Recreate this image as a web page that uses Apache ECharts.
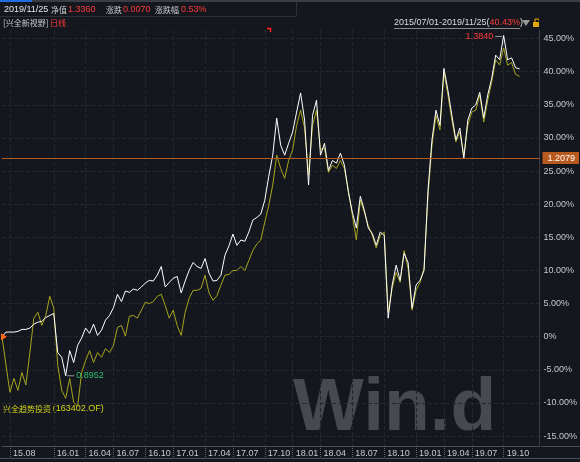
<!DOCTYPE html>
<html><head><meta charset="utf-8">
<script src="https://cdn.jsdelivr.net/npm/echarts@6/dist/echarts.min.js"></script>
<style>html,body{margin:0;padding:0;background:#14171e}#c{width:580px;height:462px}</style>
</head><body><div id="c"></div>
<script>
// ---- data ----
const dates = [
'2015-07-01','2015-07-17','2015-08-03','2015-08-14','2015-08-28','2015-09-11','2015-09-25','2015-10-09','2015-10-23','2015-11-06',
'2015-11-20','2015-12-04','2015-12-18','2016-01-04','2016-01-13','2016-01-25','2016-02-05','2016-02-19','2016-03-02','2016-03-14',
'2016-03-24','2016-04-01','2016-04-14','2016-04-27','2016-05-10','2016-05-23','2016-06-03','2016-06-17','2016-07-01','2016-07-12',
'2016-07-22','2016-08-03','2016-08-15','2016-08-26','2016-09-07','2016-09-20','2016-10-10','2016-10-21','2016-11-02','2016-11-14',
'2016-11-25','2016-12-07','2016-12-19','2017-01-03','2017-01-13','2017-01-25','2017-02-07','2017-02-17','2017-03-01','2017-03-13',
'2017-03-24','2017-04-05','2017-04-18','2017-05-02','2017-05-12','2017-05-25','2017-06-07','2017-06-20','2017-07-03','2017-07-14',
'2017-07-27','2017-08-08','2017-08-21','2017-09-01','2017-09-13','2017-09-26','2017-10-09','2017-10-20','2017-11-01','2017-11-13',
'2017-11-24','2017-12-06','2017-12-19','2018-01-02','2018-01-15','2018-01-26','2018-02-08','2018-02-26','2018-03-09','2018-03-21',
'2018-04-02','2018-04-13','2018-04-25','2018-05-08','2018-05-18','2018-05-30','2018-06-11','2018-06-21','2018-07-02','2018-07-13',
'2018-07-26','2018-08-07','2018-08-20','2018-08-31','2018-09-12','2018-09-25','2018-10-08','2018-10-18','2018-10-30','2018-11-09',
'2018-11-21','2018-12-03','2018-12-13','2018-12-24','2019-01-02','2019-01-15','2019-01-28','2019-02-12','2019-02-25','2019-03-08',
'2019-03-20','2019-04-01','2019-04-12','2019-04-25','2019-05-09','2019-05-22','2019-06-04','2019-06-18','2019-07-01','2019-07-12',
'2019-07-24','2019-08-06','2019-08-19','2019-08-30','2019-09-11','2019-09-24','2019-10-08','2019-10-18','2019-10-30','2019-11-12',
'2019-11-25','2019-12-05','2019-12-17','2019-12-27','2020-01-08','2020-01-20'];

// 兴全新视野 cumulative return (%)
const fundReturn = [
0.0,0.7,0.7,0.7,0.8,1.1,1.1,1.3,1.9,2.2,
2.3,2.9,3.2,3.5,-2.4,-3.1,-5.9,-2.1,-3.9,-1.3,
-0.2,1.3,0.5,1.9,0.2,1.0,2.5,3.2,4.4,6.4,
5.3,6.9,6.7,7.2,7.0,7.5,8.1,8.5,8.4,9.3,
10.6,7.5,8.2,8.8,9.1,6.6,8.4,10.0,11.2,10.6,
10.3,11.8,9.6,8.4,8.5,9.3,12.3,13.7,15.5,13.8,
14.6,14.4,15.8,17.6,18.0,18.5,20.6,24.2,27.4,33.0,
28.9,27.4,29.2,30.9,33.9,36.8,32.7,22.9,33.4,35.7,
27.4,29.2,25.1,26.6,26.2,27.7,25.9,21.8,18.8,16.4,
21.2,19.1,16.4,15.6,13.8,15.8,15.3,2.8,7.8,10.8,
8.5,12.6,11.2,4.3,7.8,8.5,10.0,22.1,29.7,34.2,
31.9,40.5,37.2,33.4,29.7,31.5,26.9,32.7,34.5,35.0,
36.9,33.0,36.5,39.0,42.5,41.8,45.48,41.8,42.1,40.6,
40.43];

// 兴全趋势投资 (163402.OF) cumulative return (%)
const compReturn = [
0.0,-4.3,-8.4,-6.3,-8.1,-5.4,-7.3,-2.4,2.8,3.7,
1.7,3.2,6.1,4.3,-4.3,-8.1,-9.3,-6.3,-9.9,-10.5,
-5.4,-3.6,-2.1,-3.9,-2.4,-3.1,-1.8,-2.4,-1.3,1.4,
1.7,0.1,3.1,3.2,2.8,4.0,5.2,5.0,5.3,6.1,
6.4,4.7,2.8,4.0,1.7,0.2,3.7,5.8,7.0,7.0,
7.3,9.3,6.6,5.5,6.2,7.8,9.3,9.4,10.0,10.0,
10.6,10.0,11.5,13.0,14.0,14.6,17.3,19.8,22.9,27.4,
25.4,23.9,26.6,28.2,31.9,34.2,31.5,24.4,31.9,34.2,
28.2,28.5,24.8,25.9,25.4,26.6,25.4,22.1,18.3,14.6,
20.6,18.8,16.8,15.3,13.4,15.3,15.8,3.7,7.3,9.7,
8.2,13.0,10.3,4.0,7.0,8.2,10.3,21.3,28.9,33.4,
31.2,39.9,36.5,32.7,29.4,30.9,27.4,31.9,33.9,34.2,
36.5,32.4,35.7,38.4,41.8,41.0,43.6,41.0,41.4,39.6,
39.3];

const xTickLabels = ['15.08','16.01','16.04','16.07','16.10','17.01','17.04','17.07','17.10',
                     '18.01','18.04','18.07','18.10','19.01','19.04','19.07','19.10'];
const yTickValues = [-15,-10,-5,0,5,10,15,20,25,30,35,40,45];

const navEnd = 1.3360, navChg = 0.0070, pctChg = 0.53, rangeReturn = 40.43;
const navLine = 1.2079, navMax = 1.3840, navMin = 0.8952;
const maxIdx = 126, minIdx = 16;

// ---- helpers ----
const toLbl = d => d.slice(2,4) + '.' + d.slice(5,7);
const tickIdx = new Set();
xTickLabels.forEach(l => { const i = dates.findIndex(d => toLbl(d) === l); if (i >= 0) tickIdx.add(i); });
const isTick = (i) => tickIdx.has(i);
const linePct = (navLine * (1 + rangeReturn/100) / navEnd - 1) * 100;

const LAT = '"Liberation Sans",sans-serif';
const CJK = '"Noto Sans CJK SC",sans-serif';
const RED = '#ff3b3b', GRAY = '#c8c8c8';

const chart = echarts.init(document.getElementById('c'), null, {renderer:'canvas'});
const txt = (x, y, text, fill, font) => ({type:'text', x, y, silent:true,
  style:{text, fill, font: font || ('9px ' + LAT), verticalAlign:'middle'}});

chart.setOption({
  backgroundColor:'#14171e',
  animation:false,
  grid:{left:2, right:39, top:30, bottom:16},
  xAxis:{
    type:'category', data:dates, boundaryGap:false,
    axisLine:{show:true, onZero:false, lineStyle:{color:'#4a4e57'}},
    axisTick:{show:true, interval:isTick, length:12, lineStyle:{color:'#5d616a', type:'dotted'}},
    axisLabel:{interval:isTick, formatter:toLbl, color:GRAY, fontSize:9, fontFamily:'Liberation Sans',
               align:'left', padding:[0,0,0,3], margin:3},
    splitLine:{show:true, interval:isTick, lineStyle:{color:'#23272f', type:'dashed'}}
  },
  yAxis:{
    type:'value', position:'right', min:-16.5, max:46.3,
    axisLine:{show:true, lineStyle:{color:'#3a3e47'}},
    axisTick:{show:false, customValues:yTickValues},
    axisLabel:{customValues:yTickValues, color:GRAY, fontSize:9, fontFamily:'Liberation Sans', margin:4,
               formatter:v => v === 0 ? '0%' : v.toFixed(2) + '%'},
    splitLine:{show:true, lineStyle:{color:'#23272f', type:'dashed'}}
  },
  series:[
    {type:'line', name:'兴全趋势投资', data:compReturn, symbol:'none', z:2,
     lineStyle:{color:'#a8a51c', width:1}},
    {type:'line', name:'兴全新视野', data:fundReturn, symbol:'none', z:3,
     lineStyle:{color:'#ffffff', width:1},
     markLine:{silent:true, symbol:'none', animation:false,
       lineStyle:{color:'#b8591e', width:1, type:'solid'},
       label:{position:'end', formatter:navLine.toFixed(4), color:'#fff', backgroundColor:'#b8591e',
              padding:[2,4,1,5], fontSize:9, fontFamily:'Liberation Sans', distance:3},
       data:[{yAxis:linePct}]},
     markPoint:{silent:true, animation:false, data:[
       {coord:[dates[maxIdx], fundReturn[maxIdx]], symbol:'rect', symbolSize:[7,1], symbolOffset:[-5,1],
        itemStyle:{color:'#9a9a9a'},
        label:{show:true, position:'left', distance:2, formatter:navMax.toFixed(4), color:RED, fontSize:9, fontFamily:'Liberation Sans'}},
       {coord:[dates[minIdx], fundReturn[minIdx]], symbol:'rect', symbolSize:[7,1], symbolOffset:[5,0],
        itemStyle:{color:'#9a9a9a'},
        label:{show:true, position:'right', distance:2, formatter:navMin.toFixed(4), color:'#2fbf6e', fontSize:9, fontFamily:'Liberation Sans'}},
       {coord:[dates[0], fundReturn[0]], symbol:'triangle', symbolRotate:-90, symbolSize:[7,6], symbolOffset:[2,0],
        itemStyle:{color:'#ff6a1a'}, label:{show:false}}
     ]}}
  ],
  graphic:[
    {type:'rect', silent:true, shape:{x:0,y:0,width:580,height:2}, style:{fill:'#3a3d45'}},
    {type:'rect', silent:true, shape:{x:0,y:0,width:32,height:2}, style:{fill:'#1f6fe0'}},
    {type:'line', silent:true, shape:{x1:0,y1:16.5,x2:296,y2:16.5}, style:{stroke:'#2c2f37'}},
    {type:'line', silent:true, shape:{x1:296.5,y1:2,x2:296.5,y2:16.5}, style:{stroke:'#2c2f37'}},
    txt(4, 10, '2019/11/25', '#e6e6e6'),
    txt(51, 10, '净值', GRAY, '8px ' + CJK),
    txt(68, 10, navEnd.toFixed(4), RED),
    txt(106, 10, '涨跌', GRAY, '8px ' + CJK),
    txt(123, 10, navChg.toFixed(4), RED),
    txt(155, 10, '涨跌幅', GRAY, '8px ' + CJK),
    txt(181, 10, pctChg.toFixed(2) + '%', RED),
    txt(3, 23, '[兴全新视野]', GRAY, '8px ' + CJK),
    txt(50, 23, '日线', RED, '8px ' + CJK),
    {type:'text', x:394, y:23, silent:true,
     style:{text:'2015/07/01-2019/11/25({r|' + rangeReturn.toFixed(2) + '%})', fill:'#dcdcdc', font:'9px ' + LAT,
            verticalAlign:'middle', rich:{r:{fill:RED, font:'9px ' + LAT}}}},
    {type:'line', silent:true, shape:{x1:394,y1:28.5,x2:520,y2:28.5}, style:{stroke:'#8a8a8a'}},
    {type:'polygon', silent:true, shape:{points:[[522,20],[530,20],[526,26]]}, style:{fill:'#9a9a9a'}},
    {type:'rect', silent:true, shape:{x:533,y:22,width:6,height:5}, style:{fill:'#e0a800'}},
    {type:'polyline', silent:true, shape:{points:[[535,22],[535,19],[538.5,19],[538.5,20.5]]}, style:{stroke:'#e0a800', fill:null}},
    {type:'polyline', silent:true, shape:{points:[[267,28.5],[270.5,28.5],[270.5,32]]}, style:{stroke:'#ff2020', fill:null, lineWidth:1.5}},
    {type:'text', x:3, y:409, silent:true,
     style:{text:'兴全趋势投资 {a|(163402.OF)}', fill:'#d8d41c', font:'8px ' + CJK, verticalAlign:'middle',
            rich:{a:{fill:'#d8d41c', font:'9px ' + LAT}}}},
    {type:'text', x:293, y:409, silent:true, z:-10,
     style:{text:'Win.d', fill:'#48494e', font:'bold 75px "Liberation Sans"', verticalAlign:'middle'}},
    {type:'line', silent:true, shape:{x1:0,y1:458.5,x2:580,y2:458.5}, style:{stroke:'#4a4e57'}},
    {type:'line', silent:true, shape:{x1:541,y1:446.5,x2:580,y2:446.5}, style:{stroke:'#4a4e57'}}
  ]
});
</script></body></html>
